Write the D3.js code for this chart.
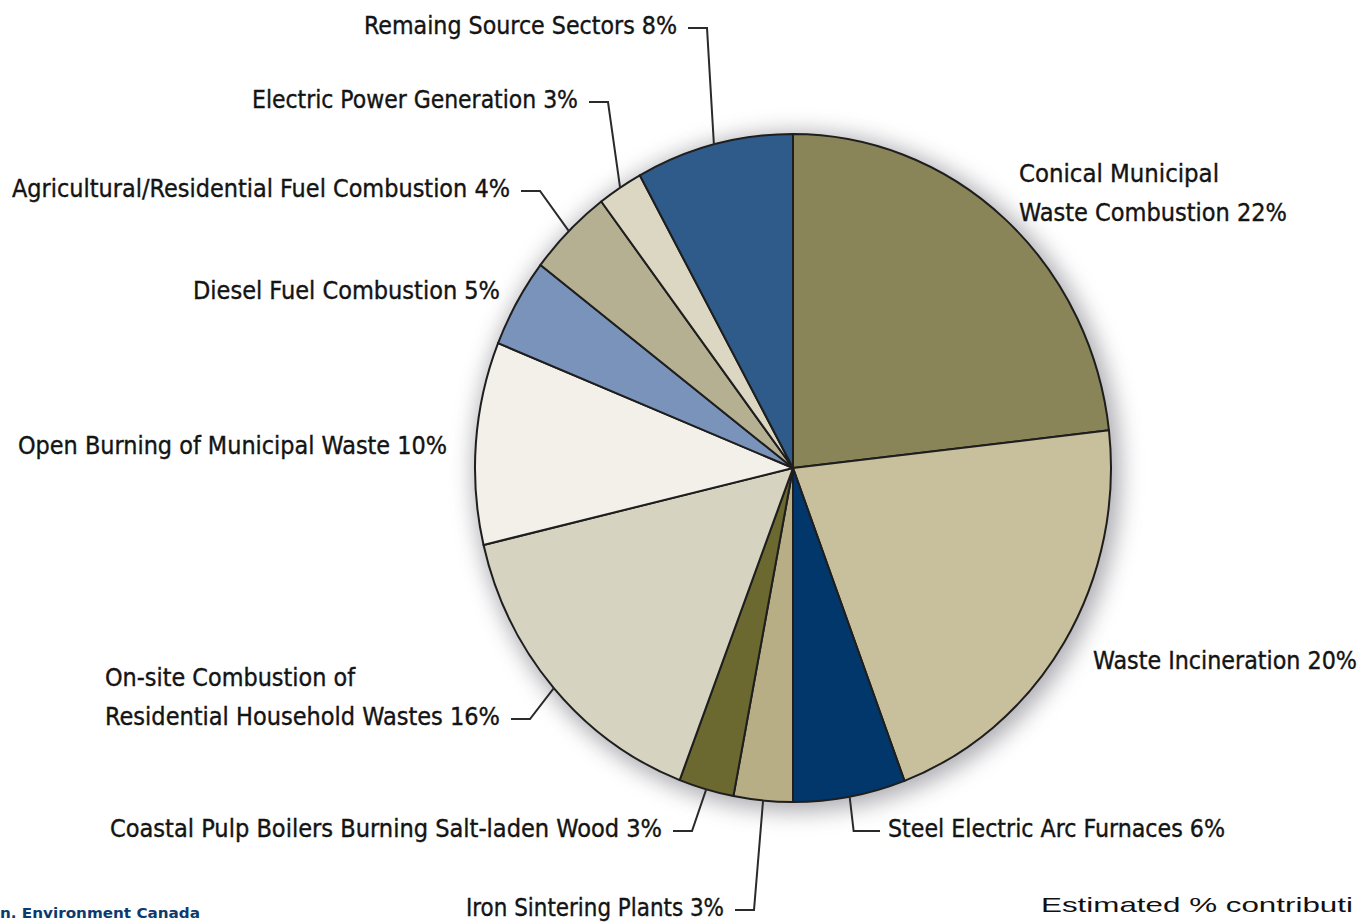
<!DOCTYPE html>
<html>
<head>
<meta charset="utf-8">
<script src="https://cdn.jsdelivr.net/npm/d3@7"></script>
<style>
  html, body { margin: 0; padding: 0; background: #fff; overflow: hidden; }
  svg { display: block; }
</style>
</head>
<body>
<svg id="chart" width="1361" height="922"></svg>
<script>
// ---- data ----
const categories = [
  "Conical Municipal Waste Combustion",
  "Waste Incineration",
  "Steel Electric Arc Furnaces",
  "Iron Sintering Plants",
  "Coastal Pulp Boilers Burning Salt-laden Wood",
  "On-site Combustion of Residential Household Wastes",
  "Open Burning of Municipal Waste",
  "Diesel Fuel Combustion",
  "Agricultural/Residential Fuel Combustion",
  "Electric Power Generation",
  "Remaing Source Sectors"
];
// slice sizes as drawn (angular share, %)
const sliceValues = [23.2, 21.1, 5.7, 3.0, 2.8, 15.5, 9.8, 4.3, 4.3, 2.3, 8.0];
// percentages as printed in the labels
const labelPercents = [22, 20, 6, 3, 3, 16, 10, 5, 4, 3, 8];
// label text lines
const labelLines = [
  ["Conical Municipal", "Waste Combustion 22%"],
  ["Waste Incineration 20%"],
  ["Steel Electric Arc Furnaces 6%"],
  ["Iron Sintering Plants 3%"],
  ["Coastal Pulp Boilers Burning Salt-laden Wood 3%"],
  ["On-site Combustion of", "Residential Household Wastes 16%"],
  ["Open Burning of Municipal Waste 10%"],
  ["Diesel Fuel Combustion 5%"],
  ["Agricultural/Residential Fuel Combustion 4%"],
  ["Electric Power Generation 3%"],
  ["Remaing Source Sectors 8%"]
];
const sliceColors = ["#8a8559", "#c8bf9d", "#02376b", "#b8ae85", "#6b6930", "#d6d3c1",
                     "#f2f0e8", "#7a93ba", "#b5b091", "#dcd7c2", "#2e5b8a"];
const sourceText = "n. Environment Canada";
const captionText = "Estimated % contributi";

// ---- layout ----
const cx = 793, cy = 468, rx = 318, ry = 334;
const labelLayout = [
  { x: 1019, y: 182, w: [200, 268] },
  { x: 1093, y: 669, w: [264] },
  { x: 888,  y: 837, w: [337], leader: "steel" },
  { x: 466,  y: 916, w: [258], leader: "right" },
  { x: 110,  y: 837, w: [552], leader: "right" },
  { x: 105,  y: 686, w: [250, 395], leader: "right" },
  { x: 18,   y: 454, w: [429] },
  { x: 193,  y: 299, w: [307] },
  { x: 12,   y: 197, w: [498], leader: "right" },
  { x: 252,  y: 108, w: [326], leader: "right" },
  { x: 364,  y: 34,  w: [313], leader: "right" }
];
const lineGap = 39;

const svg = d3.select("#chart");
const defs = svg.append("defs");
const f = defs.append("filter").attr("id", "shadow")
  .attr("x", "-20%").attr("y", "-20%").attr("width", "140%").attr("height", "140%");
f.append("feGaussianBlur").attr("stdDeviation", 11);

// shadow
svg.append("ellipse")
  .attr("cx", cx + 4).attr("cy", cy + 4)
  .attr("rx", rx + 6).attr("ry", ry + 6)
  .attr("fill", "#6e6e78").attr("opacity", 0.55)
  .attr("filter", "url(#shadow)");

const pie = d3.pie().sort(null).value(d => d)(sliceValues);
const arc = d3.arc().innerRadius(0).outerRadius(rx);

const g = svg.append("g")
  .attr("transform", `translate(${cx},${cy}) scale(1,${ry / rx})`);
g.selectAll("path").data(pie).join("path")
  .attr("d", arc)
  .attr("fill", (d, i) => sliceColors[i])
  .attr("stroke", "#1e1e1e")
  .attr("stroke-width", 2)
  .attr("stroke-linejoin", "round")
  .attr("vector-effect", "non-scaling-stroke");

function edgePoint(i) {
  const a = (pie[i].startAngle + pie[i].endAngle) / 2;
  return [cx + rx * Math.sin(a), cy - ry * Math.cos(a)];
}

const fontFam = "'DejaVu Sans Condensed', 'DejaVu Sans', sans-serif";
const labels = svg.append("g");
labelLayout.forEach((L, i) => {
  labelLines[i].forEach((line, k) => {
    labels.append("text")
      .attr("x", L.x).attr("y", L.y + k * lineGap)
      .attr("font-family", fontFam)
      .attr("font-stretch", "condensed")
      .attr("font-size", 24)
      .attr("fill", "#141414")
      .attr("stroke", "#141414")
      .attr("stroke-width", 0.35)
      .attr("textLength", L.w[k])
      .attr("lengthAdjust", "spacingAndGlyphs")
      .text(line);
  });
  if (!L.leader) return;
  const p = edgePoint(i);
  const lastY = L.y + (labelLines[i].length - 1) * lineGap - 6;
  let pts;
  if (L.leader === "right") {
    const x0 = L.x + L.w[L.w.length - 1] + 11;
    pts = [[x0, lastY], [x0 + 19, lastY], p];
  } else {
    pts = [p, [p[0] + 4, lastY], [L.x - 8, lastY]];
  }
  svg.append("path")
    .attr("d", d3.line()(pts))
    .attr("fill", "none")
    .attr("stroke", "#2a2a2a")
    .attr("stroke-width", 2);
});

// footer texts (cropped in the reference)
svg.append("text")
  .attr("x", 0).attr("y", 918)
  .attr("font-family", fontFam)
  .attr("font-stretch", "condensed")
  .attr("font-weight", "bold")
  .attr("font-size", 14)
  .attr("fill", "#0d3a6e")
  .attr("textLength", 200)
  .attr("lengthAdjust", "spacingAndGlyphs")
  .text(sourceText);

svg.append("text")
  .attr("x", 1041).attr("y", 912)
  .attr("font-family", "'Liberation Sans', Arial, sans-serif")
  .attr("font-size", 21)
  .attr("fill", "#111")
  .attr("textLength", 312)
  .attr("lengthAdjust", "spacingAndGlyphs")
  .text(captionText);
</script>
</body>
</html>
